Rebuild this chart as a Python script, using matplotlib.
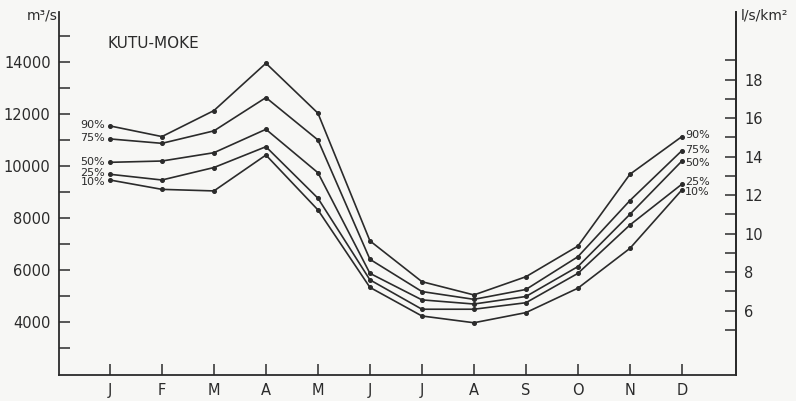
import numpy as np
import matplotlib.pyplot as plt

months = ['J', 'F', 'M', 'A', 'M', 'J', 'J', 'A', 'S', 'O', 'N', 'D']
labels = ['90%', '75%', '50%', '25%', '10%']

# débits mensuels (m3/s) par fréquence
q90 = [11540, 11130, 12130, 13950, 12030, 7120, 5550, 5040, 5740, 6920, 9680, 11130]
q75 = [11040, 10870, 11350, 12630, 11000, 6410, 5170, 4870, 5250, 6510, 8670, 10590]
q50 = [10140, 10190, 10510, 11410, 9740, 5870, 4850, 4690, 4980, 6130, 8140, 10190]
q25 = [9680, 9460, 9940, 10740, 8760, 5620, 4490, 4490, 4740, 5870, 7730, 9300]
q10 = [9460, 9100, 9040, 10420, 8310, 5330, 4230, 3970, 4360, 5300, 6830, 9080]
series = [q90, q75, q50, q25, q10]

# position des étiquettes (en m3/s)
left_y = [11580, 11080, 10150, 9730, 9380]
right_y = [11190, 10620, 10120, 9390, 9000]

# conversion m3/s -> l/s/km2
fact = 740.0

ink = '#2b2b2b'
fig = plt.figure(figsize=(7.96, 4.01), dpi=100, facecolor='#f7f7f5')
ax = fig.add_axes([0.0741, 0.0648, 0.8505, 0.9052])
ax.set_facecolor('#f7f7f5')

x = np.arange(12)
for s in series:
    ax.plot(x, s, '-', color=ink, lw=1.2, marker='o', ms=2.6)

for lab, yy in zip(labels, left_y):
    ax.text(-0.09, yy, lab, fontsize=8, color=ink, ha='right', va='center')
for lab, yy in zip(labels, right_y):
    ax.text(12 - 0.94, yy, lab, fontsize=8, color=ink, ha='left', va='center')

ax.set_xlim(-0.98, 12.04)
ax.set_ylim(1960, 15920)
ax.set_xticks(x)
ax.set_xticklabels(months)
ax.set_yticks(np.arange(4000, 14001, 2000))
ax.set_yticks(np.arange(3000, 15001, 2000), minor=True)

ax.spines['top'].set_visible(False)
for sp in ['left', 'right', 'bottom']:
    ax.spines[sp].set_color(ink)
    ax.spines[sp].set_linewidth(1.3)
ax.tick_params(axis='both', which='both', direction='in', length=8, width=1.1,
               colors=ink, labelsize=10.5)
ax.tick_params(axis='y', pad=6)
ax.tick_params(axis='x', pad=6)

ax2 = ax.twinx()
ax2.set_ylim(1960 / fact, 15920 / fact)
ax2.set_yticks(np.arange(6, 19, 2))
ax2.set_yticks(np.arange(5, 20, 2), minor=True)
for sp in ['top', 'left', 'bottom']:
    ax2.spines[sp].set_visible(False)
ax2.spines['right'].set_color(ink)
ax2.spines['right'].set_linewidth(1.3)
ax2.tick_params(axis='y', which='both', direction='in', length=8, width=1.1,
                colors=ink, labelsize=10.5, pad=6)

fig.text(0.072, 0.962, 'm³/s', fontsize=10, color=ink, ha='right', va='center')
fig.text(0.930, 0.962, 'l/s/km²', fontsize=10, color=ink, ha='left', va='center')
ax.text(-0.05, 14700, 'KUTU-MOKE', fontsize=11, color=ink, ha='left', va='center')

fig.savefig('out.png', dpi=100, facecolor=fig.get_facecolor())
